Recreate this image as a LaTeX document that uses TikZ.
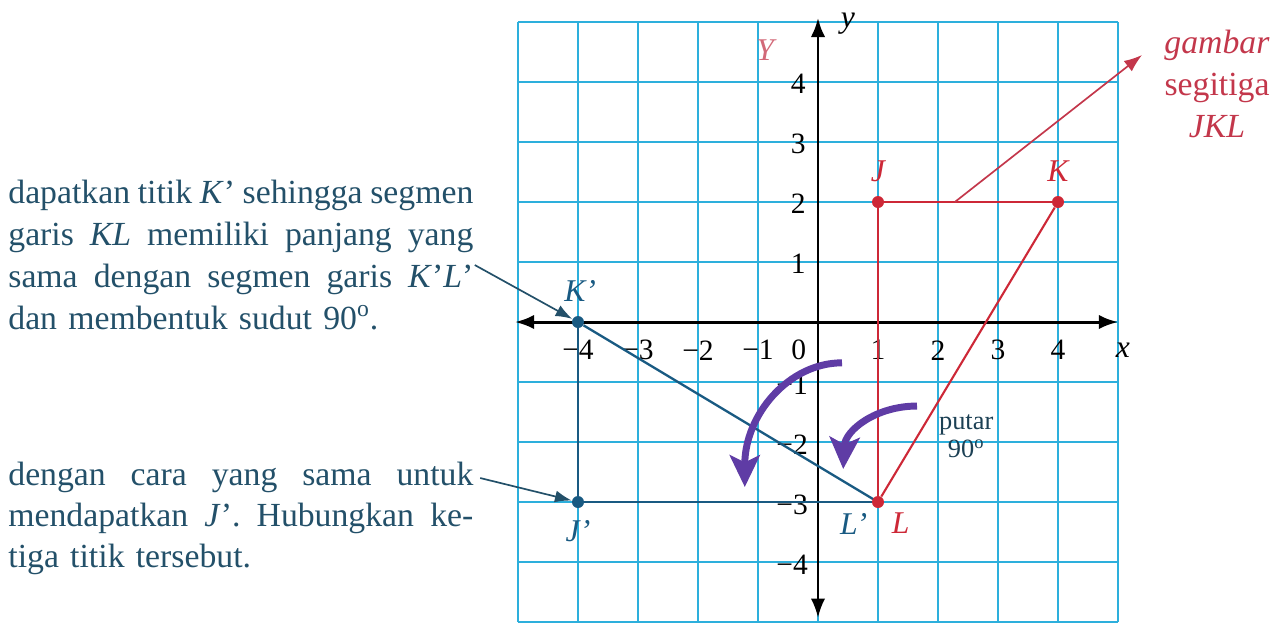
\documentclass[tikz,border=0pt]{standalone}
\usepackage{fontspec}
\setmainfont{Liberation Serif}
\usetikzlibrary{arrows.meta, positioning}
\definecolor{gridcyan}{RGB}{45,175,220}
\definecolor{trired}{RGB}{205,40,55}
\definecolor{imgblue}{RGB}{25,90,130}
\definecolor{noteteal}{RGB}{35,80,105}
\definecolor{turnpurple}{RGB}{95,60,165}
\definecolor{tagred}{RGB}{195,55,75}
\newcommand{\spreadline}[1]{\leavevmode\hbox to 7.75cm{\spaceskip=0.25em plus 1fil minus 0.15em\relax #1}}

\begin{document}
\begin{tikzpicture}[
    gridline/.style={gridcyan, line width=0.9pt},
    axis/.style={black, line width=1.4pt, {Latex[length=3.2mm,width=2.4mm]}-{Latex[length=3.2mm,width=2.4mm]}},
    ticklab/.style={inner sep=0pt, font=\fontsize{14}{16}\selectfont},
    reddot/.style={circle, fill=trired, inner sep=0pt, minimum size=2mm},
    bluedot/.style={circle, fill=imgblue, inner sep=0pt, minimum size=2mm},
    redlab/.style={inner sep=0pt, text=trired, font=\fontsize{15}{17}\selectfont\itshape},
    bluelab/.style={inner sep=0pt, text=imgblue, font=\fontsize{15}{17}\selectfont\itshape},
    redside/.style={trired, line width=1pt},
    blueside/.style={imgblue, line width=1.1pt},
    note/.style={inner sep=0pt, text=noteteal, text width=7.75cm, align=left, font=\fontsize{16}{20}\selectfont},
    pointer/.style={noteteal, line width=0.8pt, -{Latex[length=2.8mm,width=2mm]}},
    tagarrow/.style={tagred, line width=0.8pt, -{Latex[length=3mm,width=2.2mm]}},
    turn/.style={turnpurple, line width=3.3pt, -{Stealth[length=5.3mm,width=5mm,inset=1.2mm]}}]

\useasboundingbox (-13.633,-5.0) rectangle (7.733,5.367);

% grid and axes
\draw[gridline] (-5,-5) grid (5,5);
\draw[axis] (-5.05,0) -- (5.0,0);
\draw[axis] (0,-4.93) -- (0,5.07);
\node[ticklab, font=\fontsize{15}{17}\selectfont\itshape] (xname) at (5.08,-0.47) {x};
\node[ticklab, font=\fontsize{15}{17}\selectfont\itshape] (yname) at (0.5,4.97) {y};
\node[ticklab, text=tagred!75!white, font=\fontsize{15}{17}\selectfont\itshape] (bigY) at (-0.88,4.53) {Y};
\foreach \k in {1,2,3,4} {
  \node[ticklab] at (\k,-0.47) {\k};
  \node[ticklab] at (-\k,-0.47) {−\k};
  \node[ticklab] at (-0.33,\k-0.03) {\k};
  \node[ticklab] at (-0.43,-\k-0.04) {−\k};
}
\node[ticklab] (origin) at (-0.32,-0.47) {0};

% triangle JKL
\node[reddot] (J) at (1,2) {};
\node[reddot] (K) at (4,2) {};
\draw[redside] (J) -- (K);
\coordinate (tagtail) at (2.28,2);
\coordinate (tagtip) at (5.4,4.45);
\node[redlab, above=0.22cm of J] (Jlab) {J};
\node[redlab, above=0.22cm of K] (Klab) {K};

% image J'K'L'
\node[bluedot] (Kp) at (-4,0) {};
\node[bluedot] (Jp) at (-4,-3) {};
\draw[blueside] (Kp) -- (Jp);
\draw[blueside] (Jp) -- (1,-3);
\draw[blueside] (Kp) -- (1,-3);
\node[reddot] (L) at (1,-3) {};
\draw[redside] (J) -- (L);
\draw[redside] (K) -- (L);
\node[bluelab, above=0.22cm of Kp, xshift=1pt] (Kplab) {K’};
\node[bluelab, below=0.2cm of Jp] (Jplab) {J’};
\node[bluelab, below left=0.1cm and 0.1cm of L] (Lplab) {L’};
\node[redlab, below right=0.1cm and 0.15cm of L] (Llab) {L};

% rotation arrows
\draw[turn] (0.4,-0.68) .. controls (-0.49,-0.68) and (-1.22,-1.55) .. (-1.22,-2.75);
\draw[turn] (1.65,-1.4) .. controls (0.97,-1.4) and (0.45,-1.8) .. (0.42,-2.45);
\node[inner sep=0pt, align=center, text=noteteal!80!black, font=\fontsize{12.5}{13.5}\selectfont] (turnlab) at (2.47,-1.9) {putar\\90\textsuperscript{o}};

% notes
\node[note, anchor=base west] (kpnote) at (-13.5,1.98) {\spreadline{dapatkan titik \textit{K}’ sehingga segmen}\\
  \spreadline{garis \textit{KL} memiliki panjang yang}\\
  \spreadline{sama dengan segmen garis \textit{K}’\textit{L}’}\\
  dan membentuk sudut 90\textsuperscript{o}.};
\node[note, anchor=base west, font=\fontsize{16}{19.3}\selectfont] (jpnote) at (-13.5,-2.73) {\spreadline{dengan cara yang sama untuk}\\
  \spreadline{mendapatkan \textit{J}’. Hubungkan ke-}\\
  tiga titik tersebut.};
\node[inner sep=0pt, align=center, text=tagred, font=\fontsize{16}{20}\selectfont] (jkltag) at (6.65,3.97) {\textit{gambar}\\segitiga\\\textit{JKL}};

\coordinate (kpstart) at (-5.72,0.95);
\coordinate (jpstart) at (-5.63,-2.6);
\draw[pointer] (kpstart) -- (Kp);
\draw[pointer] (jpstart) -- (Jp);
\draw[tagarrow] (tagtail) -- (tagtip);
\end{tikzpicture}
\end{document}
